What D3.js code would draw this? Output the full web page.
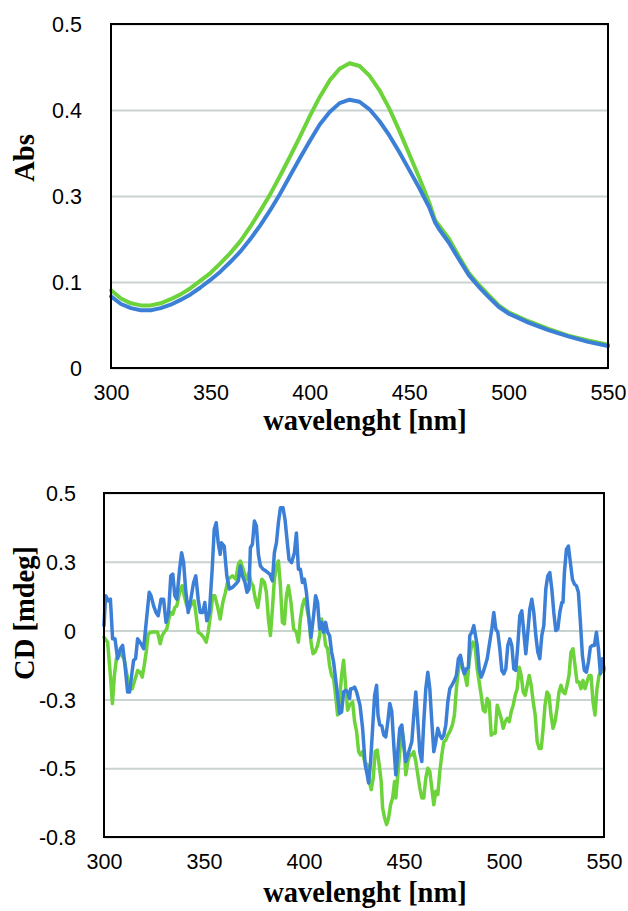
<!DOCTYPE html>
<html>
<head>
<meta charset="utf-8">
<script src="https://cdn.jsdelivr.net/npm/d3@7"></script>
<style>
  body { margin: 0; background: #fff; }
  svg { display: block; }
  .tick text { font-family: "Liberation Sans", Arial, Helvetica, sans-serif; font-size: 21.5px; fill: #000; }
  .title { font-family: "Liberation Serif", "Times New Roman", serif; font-weight: bold; font-size: 28.5px; fill: #000; }
</style>
</head>
<body>
<div id="chart"></div>
<script>
// ---- data ----
var xTicks = [300, 350, 400, 450, 500, 550];

// absorbance (top panel)
var absTicks = [0, 0.125, 0.25, 0.375, 0.5];
var absTickLabels = ["0", "0.1", "0.3", "0.4", "0.5"];
var absWavelength = [300,305,310,315,320,325,330,335,340,345,350,355,360,365,370,375,380,385,390,395,400,405,410,415,420,425,430,435,440,445,450,455,460,463,465,470,475,480,485,490,495,500,510,520,530,540,550];
var absGreen = [0.113,0.101,0.094,0.091,0.091,0.094,0.100,0.107,0.116,0.127,0.138,0.152,0.167,0.184,0.205,0.228,0.252,0.279,0.307,0.336,0.366,0.394,0.418,0.435,0.443,0.439,0.425,0.404,0.377,0.345,0.311,0.277,0.241,0.215,0.207,0.188,0.162,0.138,0.121,0.106,0.091,0.081,0.068,0.057,0.047,0.040,0.034];
var absBlue  = [0.104,0.093,0.087,0.084,0.084,0.087,0.092,0.099,0.107,0.117,0.128,0.140,0.154,0.169,0.187,0.207,0.229,0.253,0.279,0.305,0.330,0.354,0.372,0.385,0.390,0.387,0.376,0.359,0.338,0.314,0.288,0.262,0.234,0.212,0.202,0.182,0.158,0.135,0.118,0.103,0.089,0.079,0.066,0.055,0.046,0.038,0.032];

// CD (bottom panel), [wavelength, mdeg]
var cdTicks = [0.5, 0.25, 0, -0.25, -0.5, -0.75];
var cdTickLabels = ["0.5", "0.3", "0", "-0.3", "-0.5", "-0.8"];
var cdGreen = [[300,-0.024],[301.8,-0.042],[303.2,-0.163],[304.2,-0.265],[305.2,-0.163],[306.2,-0.102],[307.7,-0.078],[308.8,-0.090],[310.1,-0.102],[311.5,-0.163],[312.8,-0.211],[314.1,-0.211],[315.1,-0.187],[316.1,-0.163],[316.8,-0.145],[318.1,-0.151],[319.1,-0.169],[320.1,-0.127],[321.1,-0.078],[322.1,-0.012],[323.5,-0.006],[325.5,-0.004],[326.8,-0.006],[328.1,-0.048],[329.1,-0.018],[330.1,-0.006],[331.4,0.006],[332.4,0.042],[333.4,0.066],[334.4,0.060],[335.4,0.084],[336.4,0.090],[337.8,0.139],[339.1,0.163],[340.1,0.127],[341.4,0.090],[342.4,0.078],[343.8,0.096],[345.1,0.108],[346.1,0.054],[347.1,-0.006],[348.4,-0.012],[349.7,-0.024],[351.1,-0.042],[352.1,-0.006],[353.4,0.066],[354.4,0.127],[355.4,0.127],[356.7,0.090],[358.1,0.042],[359.4,0.102],[360.7,0.139],[362.1,0.187],[364.2,0.199],[365.9,0.187],[367.2,0.241],[368.2,0.253],[369.6,0.223],[370.5,0.199],[371.5,0.187],[372.5,0.211],[373.5,0.175],[374.5,0.163],[375.5,0.120],[376.9,0.084],[377.9,0.133],[378.9,0.187],[380.2,0.175],[381.2,0.139],[382.2,0.042],[383.2,-0.018],[384.2,0.078],[385.2,0.187],[386.2,0.235],[387.2,0.253],[388.2,0.163],[389.2,0.030],[390.2,0.024],[391.2,0.127],[392.2,0.163],[393.5,0.102],[394.8,0.006],[396.2,-0.006],[397.2,-0.042],[398.2,0.042],[399.2,0.090],[400.2,0.114],[401.2,0.090],[402.5,0.042],[403.5,-0.042],[404.5,-0.084],[405.5,-0.078],[406.8,-0.054],[407.8,-0.018],[408.8,0.042],[409.8,0.006],[410.8,-0.054],[411.8,-0.066],[412.8,-0.127],[413.8,-0.163],[414.8,-0.175],[415.8,-0.235],[416.8,-0.307],[417.8,-0.247],[418.8,-0.163],[419.8,-0.108],[420.8,-0.199],[421.8,-0.289],[422.8,-0.271],[424.3,-0.259],[425.3,-0.331],[426.3,-0.367],[427.3,-0.440],[428.3,-0.452],[429.3,-0.440],[430.3,-0.476],[431.6,-0.488],[432.6,-0.548],[433.6,-0.578],[434.6,-0.536],[435.6,-0.440],[436.6,-0.434],[437.6,-0.488],[438.6,-0.548],[439.3,-0.645],[440.3,-0.681],[441.3,-0.705],[442.3,-0.681],[443.3,-0.633],[444.3,-0.608],[445.3,-0.548],[445.9,-0.608],[446.9,-0.524],[447.9,-0.440],[448.9,-0.355],[449.9,-0.404],[450.9,-0.524],[451.9,-0.476],[452.9,-0.452],[453.9,-0.452],[454.9,-0.440],[455.9,-0.476],[456.9,-0.524],[457.9,-0.572],[458.9,-0.608],[459.9,-0.608],[460.9,-0.536],[461.9,-0.500],[462.9,-0.512],[463.9,-0.572],[464.9,-0.633],[465.9,-0.584],[466.9,-0.596],[467.9,-0.512],[468.9,-0.452],[469.9,-0.404],[470.9,-0.398],[471.9,-0.380],[472.9,-0.367],[474.2,-0.343],[475.2,-0.307],[476.2,-0.211],[477.2,-0.139],[478.2,-0.114],[479.2,-0.139],[480.5,-0.163],[481.5,-0.199],[482.5,-0.114],[483.5,-0.066],[484.5,-0.042],[485.5,-0.054],[486.6,-0.139],[487.6,-0.187],[488.6,-0.235],[489.6,-0.289],[490.6,-0.295],[491.6,-0.247],[492.6,-0.259],[493.6,-0.380],[494.6,-0.373],[495.6,-0.373],[496.6,-0.271],[497.6,-0.295],[498.6,-0.319],[499.6,-0.355],[500.6,-0.331],[501.6,-0.319],[502.6,-0.331],[503.6,-0.295],[504.6,-0.271],[505.6,-0.235],[506.6,-0.211],[507.6,-0.133],[508.6,-0.163],[509.6,-0.223],[510.6,-0.235],[511.6,-0.199],[512.6,-0.163],[513.6,-0.199],[514.6,-0.259],[515.6,-0.307],[516.6,-0.404],[517.6,-0.428],[518.6,-0.428],[519.6,-0.355],[520.5,-0.271],[521.5,-0.223],[522.5,-0.235],[523.5,-0.307],[524.5,-0.355],[525.5,-0.331],[526.5,-0.283],[527.5,-0.223],[528.5,-0.199],[529.5,-0.223],[530.5,-0.229],[531.5,-0.199],[532.5,-0.163],[533.5,-0.078],[534.5,-0.066],[535.5,-0.127],[536.5,-0.187],[537.5,-0.187],[538.5,-0.211],[539.5,-0.181],[540.5,-0.211],[541.5,-0.187],[542.5,-0.163],[543.5,-0.163],[544.5,-0.259],[545.5,-0.307],[546.5,-0.211],[547.5,-0.163],[548.5,-0.151],[550,-0.145]];
var cdBlue = [[300,0.018],[300.8,0.127],[302.2,0.108],[303.2,0.114],[304.3,-0.030],[305.5,-0.030],[306.8,-0.102],[308.2,-0.066],[309.3,-0.054],[310.5,-0.127],[311.8,-0.223],[312.8,-0.223],[313.8,-0.163],[314.8,-0.108],[315.8,-0.102],[316.8,-0.030],[318.5,-0.048],[319.8,-0.066],[321.1,0.030],[322.6,0.139],[323.5,0.127],[324.8,0.090],[326.0,0.066],[327.1,0.054],[328.5,0.114],[329.8,0.114],[331.0,0.030],[332.3,0.066],[333.4,0.199],[334.4,0.205],[335.4,0.127],[336.4,0.114],[337.8,0.223],[338.8,0.283],[339.8,0.247],[340.8,0.151],[342.1,0.066],[343.4,0.114],[344.8,0.175],[345.9,0.199],[347.1,0.114],[348.1,0.066],[349.4,0.066],[350.4,0.102],[351.4,0.036],[352.7,0.066],[354.1,0.223],[355.1,0.367],[356.1,0.392],[357.1,0.319],[358.1,0.277],[358.7,0.319],[360.1,0.307],[361.4,0.199],[362.7,0.151],[364.2,0.157],[365.9,0.169],[367.2,0.181],[368.2,0.235],[369.2,0.199],[370.5,0.175],[371.5,0.139],[372.5,0.151],[373.2,0.301],[374.2,0.313],[375.2,0.398],[376.2,0.380],[377.2,0.277],[378.2,0.235],[379.5,0.223],[380.9,0.217],[381.9,0.211],[382.9,0.205],[384.2,0.181],[385.2,0.283],[386.2,0.319],[387.2,0.392],[388.2,0.446],[389.5,0.446],[390.5,0.404],[391.5,0.331],[392.5,0.259],[393.8,0.247],[395.2,0.283],[396.2,0.355],[397.2,0.223],[398.2,0.223],[399.2,0.175],[400.2,0.187],[401.2,0.139],[402.5,0.042],[403.5,-0.024],[404.8,0.054],[405.8,0.127],[406.8,0.102],[407.8,0.006],[408.8,0.030],[409.8,-0.006],[410.8,0.030],[411.8,-0.006],[412.8,-0.018],[413.8,-0.078],[414.8,-0.114],[415.8,-0.175],[416.8,-0.235],[417.8,-0.301],[418.8,-0.295],[419.8,-0.223],[420.8,-0.217],[421.8,-0.223],[422.8,-0.247],[423.3,-0.211],[424.3,-0.211],[425.3,-0.205],[426.3,-0.223],[428.0,-0.271],[429.3,-0.355],[430.6,-0.488],[431.6,-0.524],[432.3,-0.554],[433.3,-0.476],[434.3,-0.355],[435.3,-0.235],[436.3,-0.199],[437.0,-0.307],[437.9,-0.343],[438.9,-0.346],[439.9,-0.380],[440.9,-0.386],[441.9,-0.331],[442.9,-0.265],[443.9,-0.295],[444.9,-0.416],[445.9,-0.524],[446.9,-0.440],[447.9,-0.355],[448.9,-0.343],[449.9,-0.416],[450.9,-0.476],[451.9,-0.452],[452.9,-0.428],[453.9,-0.404],[454.9,-0.307],[455.9,-0.223],[456.9,-0.331],[457.9,-0.440],[458.9,-0.476],[459.9,-0.331],[460.9,-0.211],[461.9,-0.151],[462.9,-0.211],[463.9,-0.331],[464.9,-0.440],[465.9,-0.404],[466.9,-0.355],[467.9,-0.380],[468.9,-0.392],[469.9,-0.380],[470.9,-0.343],[471.9,-0.259],[472.9,-0.211],[473.9,-0.199],[475.2,-0.181],[476.2,-0.163],[477.2,-0.102],[478.2,-0.090],[479.2,-0.127],[480.2,-0.157],[481.2,-0.139],[482.2,-0.133],[482.9,-0.018],[483.9,-0.006],[484.9,0.018],[486.6,-0.054],[487.6,-0.139],[488.6,-0.169],[489.6,-0.151],[490.6,-0.127],[491.6,-0.102],[492.6,-0.054],[493.9,0.006],[494.9,0.066],[495.9,0.006],[496.9,-0.006],[497.9,-0.066],[498.9,-0.145],[499.9,-0.157],[500.9,-0.139],[501.9,-0.054],[502.9,-0.030],[503.9,-0.054],[504.9,-0.139],[505.9,-0.145],[506.9,-0.054],[507.9,0.054],[508.9,0.072],[509.9,-0.006],[510.9,-0.084],[511.9,-0.006],[512.9,0.078],[513.9,0.114],[514.9,0.066],[515.9,-0.018],[516.9,-0.078],[517.9,-0.102],[518.9,-0.018],[519.9,0.018],[520.9,0.151],[521.9,0.199],[522.9,0.211],[523.9,0.151],[524.9,0.066],[525.9,0.000],[526.9,0.006],[527.9,0.066],[528.9,0.102],[529.5,0.102],[530.2,0.211],[531.2,0.295],[532.2,0.307],[533.2,0.247],[534.2,0.187],[535.2,0.169],[536.2,0.163],[537.2,0.139],[538.2,0.030],[539.2,-0.090],[540.2,-0.145],[541.2,-0.151],[542.2,-0.114],[543.2,-0.060],[544.2,-0.054],[545.2,-0.054],[546.2,-0.006],[547.2,-0.066],[548.2,-0.157],[549.2,-0.102],[550,-0.139]];

var green = "#6cd33a", blue = "#3c7fd6", gridColor = "#c9d3d0";

var W = 628, H = 911;
var svg = d3.select("#chart").append("svg")
    .attr("width", W)
    .attr("height", H);

function panel(box, yDomain, yTicks, yLabels, yPad, series, lineW, yTitle, yTitleY, xTitleY) {
  var x = d3.scaleLinear().domain([300, 550]).range([box.left, box.right]);
  var y = d3.scaleLinear().domain(yDomain).range([box.bottom, box.top]);
  var w = box.right - box.left;

  // gridlines + y labels
  var gy = svg.append("g")
      .attr("transform", "translate(" + box.left + ",0)")
      .call(d3.axisLeft(y)
          .tickValues(yTicks)
          .tickSize(-w)
          .tickPadding(yPad)
          .tickFormat(function(d, i) { return yLabels[i]; }));
  gy.select(".domain").remove();
  gy.selectAll(".tick line")
      .attr("stroke", gridColor)
      .attr("stroke-width", 2);
  gy.selectAll(".tick text").attr("dy", "0.36em");

  // x labels
  var gx = svg.append("g")
      .attr("transform", "translate(0," + box.bottom + ")")
      .call(d3.axisBottom(x).tickValues(xTicks).tickSize(0).tickPadding(17).tickFormat(d3.format("d")));
  gx.select(".domain").remove();

  // curves, green under blue
  series.forEach(function(s) {
    svg.append("path")
        .datum(s.data)
        .attr("fill", "none")
        .attr("stroke", s.color)
        .attr("stroke-width", lineW)
        .attr("stroke-linejoin", "round")
        .attr("stroke-linecap", "round")
        .attr("d", d3.line()
            .x(function(d) { return x(d[0]); })
            .y(function(d) { return y(d[1]); }));
  });

  // frame
  svg.append("rect")
      .attr("x", box.left).attr("y", box.top)
      .attr("width", w).attr("height", box.bottom - box.top)
      .attr("fill", "none")
      .attr("stroke", "#000")
      .attr("stroke-width", 2);

  svg.append("text")
      .attr("class", "title")
      .attr("text-anchor", "middle")
      .attr("x", 365).attr("y", xTitleY)
      .text("wavelenght [nm]");

  svg.append("text")
      .attr("class", "title")
      .attr("text-anchor", "middle")
      .attr("transform", "translate(34," + yTitleY + ") rotate(-90)")
      .text(yTitle);
}

var zipAbs = function(vals) { return absWavelength.map(function(wl, i) { return [wl, vals[i]]; }); };

panel({left: 111, right: 608, top: 24, bottom: 368},
      [0, 0.5], absTicks, absTickLabels, 29,
      [{data: zipAbs(absGreen), color: green}, {data: zipAbs(absBlue), color: blue}],
      4, "Abs", 158, 430);

panel({left: 104, right: 604, top: 493, bottom: 837},
      [-0.75, 0.5], cdTicks, cdTickLabels, 28,
      [{data: cdGreen, color: green}, {data: cdBlue, color: blue}],
      3.5, "CD [mdeg]", 613, 902);
</script>
</body>
</html>
